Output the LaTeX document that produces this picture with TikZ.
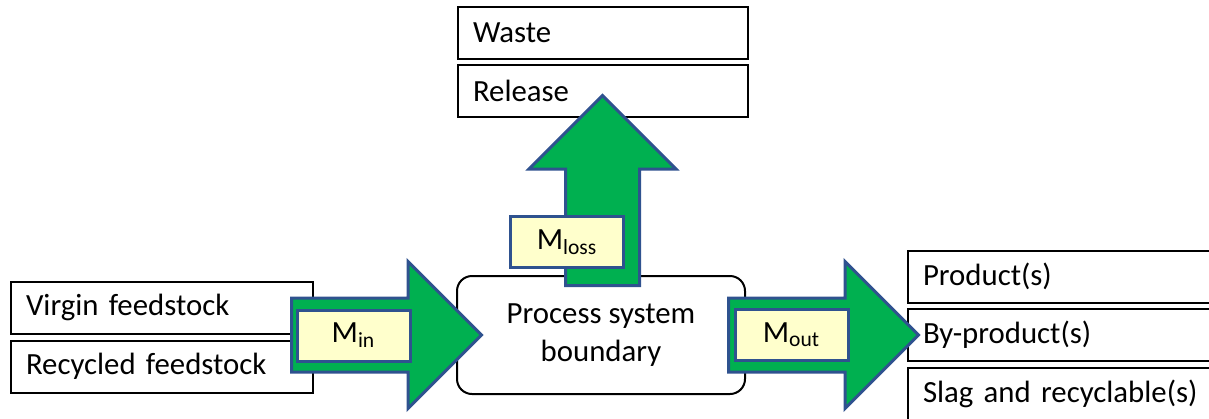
\documentclass[tikz,border=0pt]{standalone}
\usepackage{fontspec}
\setmainfont{Carlito}
\usepackage{xcolor}
\usetikzlibrary{shapes.arrows}

\definecolor{flowgreen}{RGB}{0,176,80}
\definecolor{flowedge}{RGB}{47,82,143}
\definecolor{tagfill}{RGB}{255,255,204}

\begin{document}
\begin{tikzpicture}[
  x=0.5pt, y=-0.5pt,
  box/.style={draw, line width=1pt, anchor=west, minimum height=26pt,
              text width=#1, inner xsep=7.5pt, align=left,
              font=\fontsize{15.4}{19}\selectfont},
  flow/.style={single arrow, draw=flowedge, fill=flowgreen, line width=1.5pt,
               minimum height=95pt, minimum width=72pt, inner sep=17.75pt,
               single arrow head extend=18.25pt, single arrow head indent=0pt},
  tag/.style={draw=flowedge, fill=tagfill, line width=1.5pt, inner sep=0pt,
              minimum width=56.5pt, minimum height=25.5pt,
              font=\fontsize{15.4}{19}\selectfont}
]
\path[use as bounding box, clip] (0,0) rectangle (1209,418);

%% ---- Inputs ----
\node[box=136pt] (vir) at (10, 307.5) {Virgin feedstock};
\node[box=136pt] (rec) at (10, 366.5) {Recycled feedstock};

%% ---- Losses ----
\node[box=130pt] (waste) at (457, 33)   {Waste};
\node[box=130pt] (rel)   at (457, 90.5) {Release};

%% ---- Outputs ----
\node[box=150pt] (prod) at (907, 276.5) {Product(s)};
\node[box=150pt] (byp)  at (907, 335)   {By-product(s)};
\node[box=150pt] (slag) at (907, 394)   {Slag and recyclable(s)};

%% ---- Process ----
\node[draw, line width=1pt, rounded corners=7.5pt, minimum width=144pt,
      minimum height=59pt, align=center, font=\fontsize{15.4}{19}\selectfont]
  (proc) at (601, 335) {Process system\\boundary};

%% Flow arrows
\node[flow, anchor=tail] (ain) at (290, 335) {};
\node[flow, anchor=tail, shape border rotate=90] (aloss) at (602.5, 287) {};
\node[flow, anchor=tail] (aout) at (727, 335) {};

%% Flow labels
\node[tag] (tin)   at (353.5, 335.5) {M\textsubscript{in}};
\node[tag] (tloss) at (567, 242)     {M\textsubscript{loss}};
\node[tag] (tout)  at (791.5, 335)   {M\textsubscript{out}};

\end{tikzpicture}
\end{document}
